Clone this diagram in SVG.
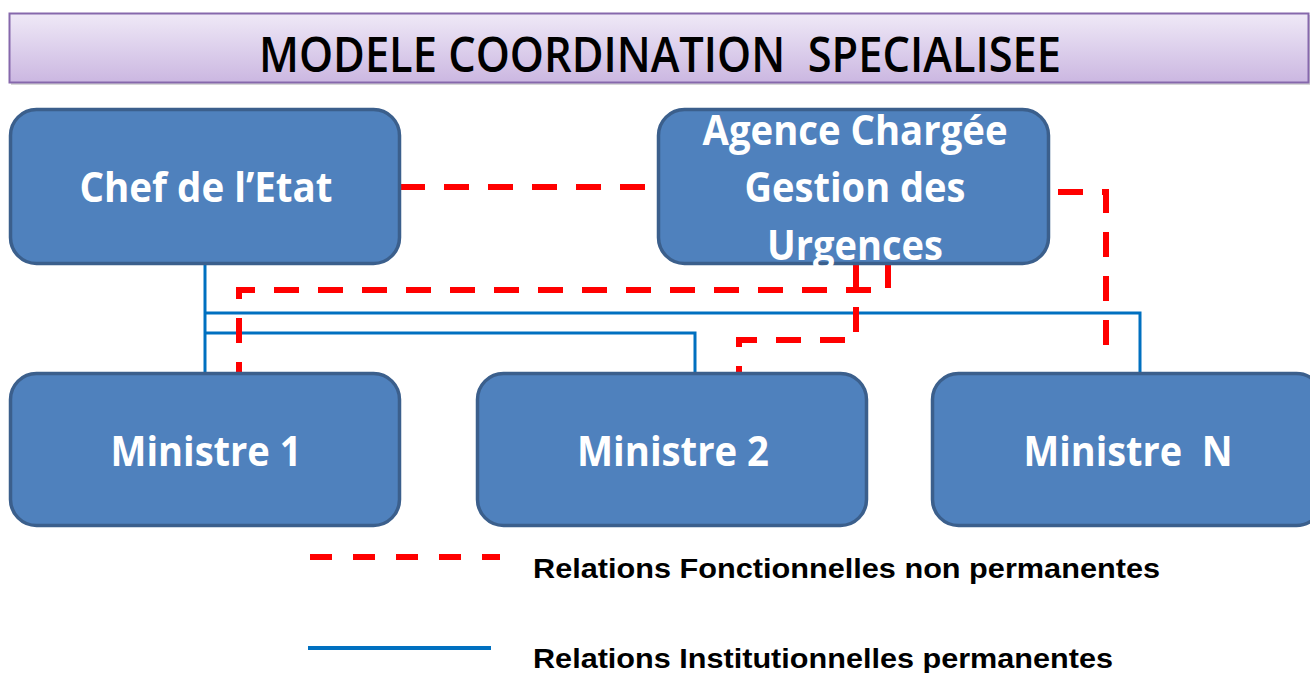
<svg xmlns="http://www.w3.org/2000/svg" width="1310" height="673" viewBox="0 0 1310 673">
<defs>
<linearGradient id="tg" x1="0" y1="0" x2="0" y2="1">
<stop offset="0" stop-color="#efe9f7"/>
<stop offset="1" stop-color="#cbb7e1"/>
</linearGradient>
<style>
.node rect{fill:#4f81bd;stroke:#3b5f8c;stroke-width:3.5}
.nt{font-family:"Open Sans","Noto Sans",sans-serif;font-weight:bold;font-size:41px;fill:#ffffff;text-anchor:middle}
.fn{fill:none;stroke:#ff0000;stroke-width:6;stroke-dasharray:25 19}
.inst{fill:none;stroke:#0070c0;stroke-width:3}
.lg{font-family:"Liberation Sans",Arial,sans-serif;font-weight:bold;font-size:28px;fill:#000000}
</style>
</defs>
<rect width="1310" height="673" fill="#ffffff"/>
<g id="title">
<rect x="11" y="15" width="1300" height="70" fill="#9a9a9a" opacity="0.4"/>
<rect x="9.5" y="13.5" width="1299" height="69" fill="url(#tg)" stroke="#8668ac" stroke-width="2"/>
<text x="660" y="72" font-family="'Open Sans','Noto Sans',sans-serif" font-size="48" font-weight="600" fill="#000000" text-anchor="middle" textLength="802" lengthAdjust="spacingAndGlyphs" xml:space="preserve">MODELE COORDINATION  SPECIALISEE</text>
</g>
<g id="connectors">
<path class="inst" d="M205,263 V373"/>
<path class="inst" d="M205,313 H1140 V373"/>
<path class="inst" d="M205,333 H695 V373"/>
<path class="fn" d="M400,187 H658"/>
<path class="fn" d="M888,263 V290 H239 V373"/>
<path class="fn" d="M856,263 V340 H739 V373"/>
<path class="fn" d="M1058,192 H1106 V352"/>
</g>
<g id="chef" class="node">
<rect x="10.5" y="109.5" width="389" height="154" rx="26"/>
<text class="nt" x="206" y="202" textLength="253" lengthAdjust="spacingAndGlyphs">Chef de l’Etat</text>
</g>
<g id="agence" class="node">
<rect x="658.5" y="109.5" width="390" height="154" rx="26"/>
<text class="nt" x="855" y="145" textLength="305" lengthAdjust="spacingAndGlyphs">Agence Chargée</text>
<text class="nt" x="855" y="202" textLength="221" lengthAdjust="spacingAndGlyphs">Gestion des</text>
<text class="nt" x="855" y="260" textLength="176" lengthAdjust="spacingAndGlyphs">Urgences</text>
</g>
<g id="ministre1" class="node">
<rect x="10.5" y="373.5" width="389" height="152" rx="26"/>
<text class="nt" x="206" y="466" textLength="191" lengthAdjust="spacingAndGlyphs">Ministre 1</text>
</g>
<g id="ministre2" class="node">
<rect x="477.5" y="373.5" width="389" height="152" rx="26"/>
<text class="nt" x="673" y="466" textLength="192" lengthAdjust="spacingAndGlyphs">Ministre 2</text>
</g>
<g id="ministreN" class="node">
<rect x="932.5" y="373.5" width="390" height="152" rx="26"/>
<text class="nt" x="1128" y="466" textLength="209" lengthAdjust="spacingAndGlyphs" xml:space="preserve">Ministre  N</text>
</g>
<g id="legend">
<path d="M310,557 H500" fill="none" stroke="#ff0000" stroke-width="6" stroke-dasharray="22 21"/>
<text class="lg" x="533" y="578" textLength="627" lengthAdjust="spacingAndGlyphs">Relations Fonctionnelles non permanentes</text>
<path d="M308,648 H491" fill="none" stroke="#0070c0" stroke-width="4"/>
<text class="lg" x="533" y="668" textLength="580" lengthAdjust="spacingAndGlyphs">Relations Institutionnelles permanentes</text>
</g>
</svg>
